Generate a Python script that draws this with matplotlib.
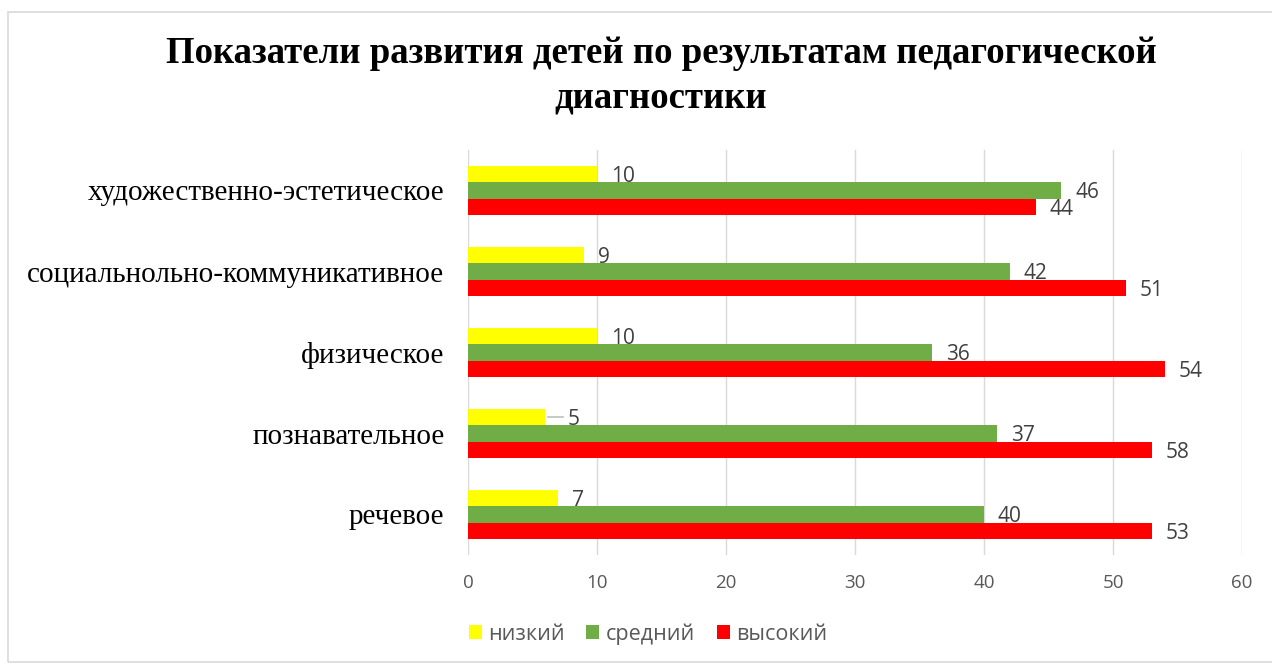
import matplotlib
matplotlib.use("Agg")
import matplotlib.pyplot as plt
from matplotlib.patches import Rectangle
import numpy as np

categories = ["художественно-эстетическое", "социальнольно-коммуникативное",
              "физическое", "познавательное", "речевое"]
series_names = ["низкий", "средний", "высокий"]
low = [10, 9, 10, 6, 7]
mid = [46, 42, 36, 41, 40]
high = [44, 51, 54, 53, 53]
low_labels = ["10", "9", "10", "5", "7"]
mid_labels = ["46", "42", "36", "37", "40"]
high_labels = ["44", "51", "54", "58", "53"]
xticks = [0, 10, 20, 30, 40, 50, 60]
title = "Показатели развития детей по результатам педагогической\nдиагностики"

colors = ["#FFFF00", "#70AD47", "#FF0000"]
tick_gray = "#595959"
label_gray = "#404040"
sans = ["Open Sans", "DejaVu Sans"]
serif = ["Liberation Serif", "DejaVu Serif"]

fig = plt.figure(figsize=(12.72, 6.66), dpi=100)
fig.patch.set_facecolor("white")
fig.add_artist(Rectangle((0.0063, 0.006), 1.2, 0.976, transform=fig.transFigure,
                         fill=False, edgecolor="#d9d9d9", linewidth=1.2))

ax = fig.add_axes([468 / 1272, 1 - 555 / 666, (1242 - 468) / 1272, (555 - 150) / 666])
y = np.arange(len(categories))
h = 0.2
offsets = [-h, 0, h]
series = [low, mid, high]
labels = [low_labels, mid_labels, high_labels]
for s, (vals, off, col, name) in enumerate(zip(series, offsets, colors, series_names)):
    ax.barh(y + off, vals, height=h, color=col, label=name, zorder=3)

# data labels
px = 60 / (1242 - 468)  # data units per pixel
for s, (vals, off, labs) in enumerate(zip(series, offsets, labels)):
    for i, (v, t) in enumerate(zip(vals, labs)):
        moved = (t != str(v) and s == 0)
        dx = 22 if moved else 14
        ax.text(v + dx * px, i + off + 0.03, t, ha="left", va="center",
                fontsize=15, color=label_gray, family=sans, zorder=4)
        if moved:
            ax.plot([v + 3 * px, v + 18 * px], [i + off, i + off],
                    color="#bfbfbf", lw=1.2, zorder=4)

ax.set_xlim(0, 60)
ax.set_ylim(len(categories) - 0.5, -0.5)
ax.set_xticks(xticks)
ax.set_xticklabels([str(t) for t in xticks], family=sans, fontsize=13.5, color=tick_gray)
ax.set_yticks(y)
ax.set_yticklabels(categories, family=serif, fontsize=21, color="black")
ax.tick_params(axis="both", length=0)
ax.tick_params(axis="x", pad=14)
ax.tick_params(axis="y", pad=17)
ax.grid(axis="x", color="#d9d9d9", linewidth=1, zorder=0)
for sp in ax.spines.values():
    sp.set_visible(False)

fig.text(661 / 1272, 1 - 76 / 666, title, ha="center", va="center",
         fontsize=26.5, fontweight="bold", family=serif, linespacing=1.35)

leg = fig.legend(loc="center", bbox_to_anchor=(648 / 1272, 1 - 634 / 666), ncol=3,
                 frameon=False, prop={"family": sans, "size": 15.5},
                 handlelength=0.6, handleheight=0.6, handletextpad=0.3, columnspacing=1.0)
for t in leg.get_texts():
    t.set_color(tick_gray)

fig.savefig("out.png", dpi=100)
